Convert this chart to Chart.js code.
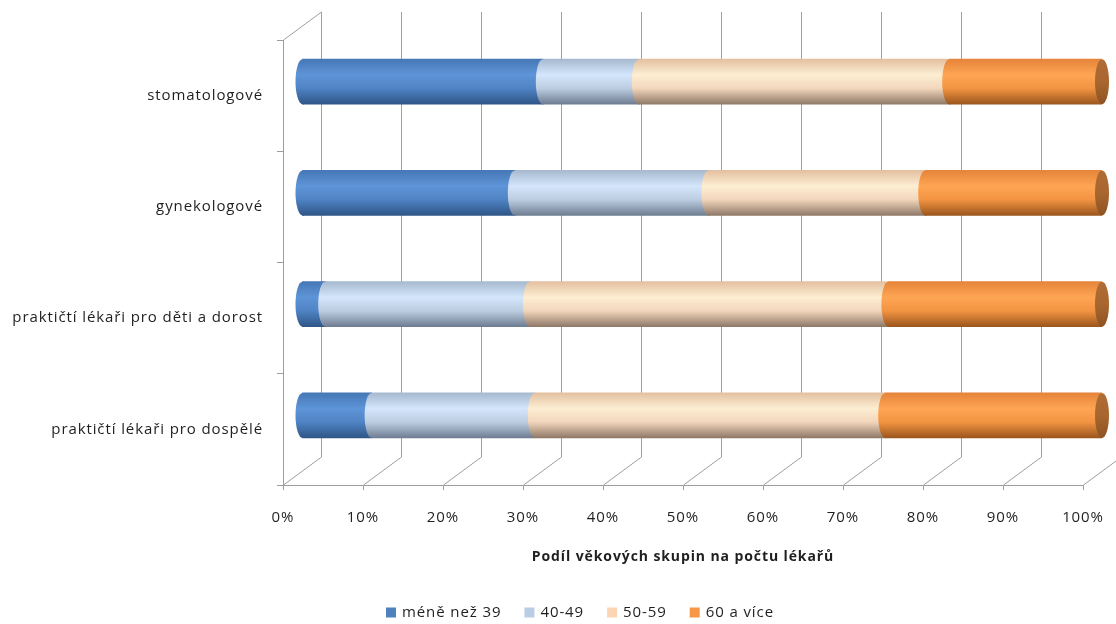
<!DOCTYPE html>
<html>
<head>
<meta charset="utf-8">
<script src="https://cdn.jsdelivr.net/npm/chart.js@4/dist/chart.umd.min.js"></script>
<style>
  html, body { margin: 0; padding: 0; background: #ffffff; }
  #wrap { width: 1116px; height: 624px; }
</style>
</head>
<body>
<div id="wrap"><canvas id="c" width="1116" height="624"></canvas></div>
<script>
// ---- data ----
const categories = ['stomatologové', 'gynekologové', 'praktičtí lékaři pro děti a dorost', 'praktičtí lékaři pro dospělé'];
const seriesNames = ['méně než 39', '40-49', '50-59', '60 a více'];
const under39 = [30.1, 26.6, 2.9, 8.7];
const age40to49 = [12.0, 24.2, 25.6, 20.4];
const age50to59 = [38.8, 27.1, 44.8, 43.8];
const age60plus = [19.1, 22.1, 26.7, 27.1];
const xTickValues = [0, 10, 20, 30, 40, 50, 60, 70, 80, 90, 100];
const axisTitle = 'Podíl věkových skupin na počtu lékařů';

// ---- styling ----
const FONT = '"Open Sans", "Noto Sans", sans-serif';
const LS = '0.9px';
const flatColors = ['#4F81BD', '#B9CDE5', '#FCD5B5', '#F79646'];
const gradStops = [
  ['#4677b6', '#5e95d8', '#4f83c4', '#2f5687'],
  ['#a7b9cf', '#d4e6fb', '#bccde2', '#6f7d92'],
  ['#e3c0a0', '#fdeed3', '#f2d6bb', '#8f7968'],
  ['#e5843a', '#fea553', '#f29442', '#9c561d']
];
const BAR_T = 45;
const DX = 38, DY = -28;       // back-wall offset
const BX = 19, BY = -14;       // bar depth offset
const LINE = '#9e9e9e';

function makeGrad(series) {
  return function (ctx) {
    const chart = ctx.chart;
    const y = chart.scales && chart.scales.y;
    if (!y || ctx.dataIndex === undefined) return flatColors[series];
    const yc = y.getPixelForValue(ctx.dataIndex);
    if (!isFinite(yc)) return flatColors[series];
    const g = chart.ctx.createLinearGradient(0, yc - BAR_T / 2, 0, yc + BAR_T / 2);
    const s = gradStops[series];
    g.addColorStop(0, s[0]);
    g.addColorStop(0.35, s[1]);
    g.addColorStop(0.65, s[2]);
    g.addColorStop(1, s[3]);
    return g;
  };
}

const depthPlugin = {
  id: 'depth',
  beforeUpdate(chart) { chart.ctx.letterSpacing = LS; },
  beforeDraw(chart) { chart.ctx.letterSpacing = LS; },
  beforeDatasetsDraw(chart) {
    const { ctx, chartArea: a, scales: { x } } = chart;
    ctx.save();
    ctx.strokeStyle = LINE;
    ctx.lineWidth = 1;
    ctx.beginPath();
    xTickValues.forEach(v => {
      const px = Math.round(x.getPixelForValue(v)) + 0.5;
      ctx.moveTo(px + DX, a.top + DY);
      ctx.lineTo(px + DX, a.bottom + DY);
      ctx.moveTo(px, a.bottom);
      ctx.lineTo(px + DX, a.bottom + DY);
    });
    const lx = Math.round(a.left) + 0.5;
    ctx.moveTo(lx, a.top);
    ctx.lineTo(lx + DX, a.top + DY);
    ctx.stroke();
    ctx.restore();
    ctx.save();
    ctx.translate(BX, BY);
  },
  afterDatasetsDraw(chart) {
    const ctx = chart.ctx;
    const metas = chart.getSortedVisibleDatasetMetas();
    metas.forEach((m, di) => {
      m.data.forEach(el => {
        const p = el.getProps(['x', 'y', 'base', 'height'], true);
        const left = Math.min(p.x, p.base), right = Math.max(p.x, p.base);
        const ry = p.height / 2, rx = 7;
        ctx.fillStyle = el.options.backgroundColor;
        ctx.beginPath();
        ctx.ellipse(left, p.y, rx, ry, 0, Math.PI / 2, Math.PI * 1.5);
        ctx.lineTo(left + 1.5, p.y - ry);
        ctx.lineTo(left + 1.5, p.y + ry);
        ctx.closePath();
        ctx.fill();
        if (di === metas.length - 1) {
          const g = ctx.createLinearGradient(0, p.y - ry, 0, p.y + ry);
          g.addColorStop(0, '#b06c33');
          g.addColorStop(0.5, '#a8672f');
          g.addColorStop(1, '#8e5222');
          ctx.fillStyle = g;
          ctx.beginPath();
          ctx.ellipse(right, p.y, rx, ry, 0, 0, Math.PI * 2);
          ctx.fill();
        }
      });
    });
    ctx.restore();
  },
  afterDraw(chart) {
    const ctx = chart.ctx;
    ctx.save();
    ctx.letterSpacing = LS;
    ctx.font = '15px ' + FONT;
    ctx.textBaseline = 'middle';
    ctx.textAlign = 'left';
    let x = 386;
    const yc = 612.5;
    seriesNames.forEach((name, i) => {
      ctx.fillStyle = flatColors[i];
      ctx.fillRect(x, yc - 5, 10, 10);
      ctx.fillStyle = '#1f1f1f';
      ctx.fillText(name, x + 16, yc);
      x += 16 + ctx.measureText(name).width + 23;
    });
    ctx.restore();
  }
};

const datasets = [under39, age40to49, age50to59, age60plus].map((vals, i) => ({
  label: seriesNames[i],
  data: vals,
  backgroundColor: makeGrad(i),
  borderWidth: 0,
  barThickness: BAR_T
}));

new Chart(document.getElementById('c'), {
  type: 'bar',
  data: { labels: categories, datasets },
  plugins: [depthPlugin],
  options: {
    indexAxis: 'y',
    responsive: false,
    animation: false,
    events: [],
    layout: { padding: { top: 40, right: 33, bottom: 0, left: 0 } },
    plugins: { legend: { display: false }, tooltip: { enabled: false } },
    scales: {
      x: {
        stacked: true,
        min: 0,
        max: 100,
        afterBuildTicks(s) { s.ticks = xTickValues.map(v => ({ value: v })); },
        afterFit(s) { s.height = 139; s.paddingLeft = 0; s.paddingRight = 0; },
        grid: { drawOnChartArea: false, drawTicks: true, tickLength: 5, color: LINE },
        border: { display: true, color: LINE },
        ticks: {
          padding: 19,
          color: '#1f1f1f',
          font: { family: FONT, size: 15 },
          maxRotation: 0,
          autoSkip: false,
          callback: v => v + '%'
        },
        title: {
          display: true,
          text: axisTitle,
          color: '#1f1f1f',
          font: { family: FONT, size: 14, weight: 'bold' },
          padding: { top: 0, bottom: 59 }
        }
      },
      y: {
        stacked: true,
        afterFit(s) { s.width = 283; s.paddingTop = 0; s.paddingBottom = 0; },
        grid: { drawOnChartArea: false, drawTicks: true, tickLength: 6, color: LINE, offset: true },
        border: { display: true, color: LINE },
        ticks: {
          padding: 14,
          color: '#1f1f1f',
          font: { family: FONT, size: 15 }
        }
      }
    }
  }
});
</script>
</body>
</html>
